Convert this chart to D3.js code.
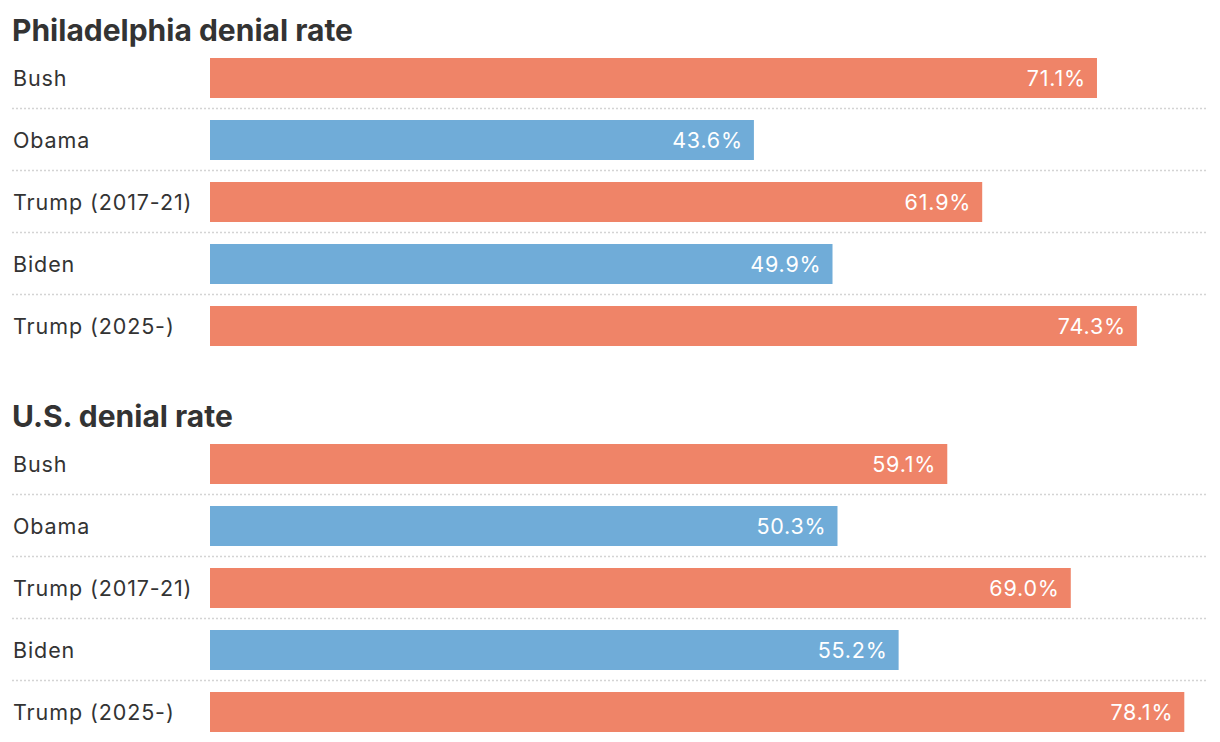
<!DOCTYPE html>
<html><head><meta charset="utf-8">
<script src="https://cdn.jsdelivr.net/npm/d3@7"></script>
<style>
body{margin:0;background:#fff;}
svg{display:block;font-family:"Inter","Roboto",sans-serif;}
</style></head>
<body><svg id="chart" width="1220" height="742"></svg>
<script>
const categories = ["Bush","Obama","Trump (2017-21)","Biden","Trump (2025-)"];
const parties = ["R","D","R","D","R"];
const phillyValues = [71.1, 43.6, 61.9, 49.9, 74.3];
const usValues = [59.1, 50.3, 69.0, 55.2, 78.1];
const titles = ["Philadelphia denial rate","U.S. denial rate"];

const colors = {R:"#ef8468", D:"#70acd8"};
const svg = d3.select("#chart");
const x = d3.scaleLinear().domain([0,80]).range([210,1208]);

function panel(title, values, top){
  const g = svg.append("g");
  g.append("text").attr("x",12).attr("y",top-17)
    .attr("font-size",30).attr("font-weight",700).attr("fill","#333")
    .text(title);
  const y = d3.scaleBand().domain(categories)
    .range([top, top + 5*62 - 22]).paddingInner(22/62).paddingOuter(0);
  const data = categories.map((c,i)=>({c, v:values[i], p:parties[i], i}));
  g.selectAll("line.sep").data(data.slice(0,4)).join("line")
    .attr("x1",12).attr("x2",1208)
    .attr("y1",d=>y(d.c)+y.bandwidth()+10.5).attr("y2",d=>y(d.c)+y.bandwidth()+10.5)
    .attr("stroke","#d4d4d4").attr("stroke-width",1.5).attr("stroke-dasharray","2,2");
  g.selectAll("text.cat").data(data).join("text")
    .attr("x",13).attr("y",d=>y(d.c)+y.bandwidth()/2).attr("dy","0.36em")
    .attr("font-size",21.5).attr("letter-spacing","0.9").attr("fill","#333").text(d=>d.c);
  g.selectAll("rect").data(data).join("rect")
    .attr("x",x(0)).attr("y",d=>y(d.c)).attr("width",d=>x(d.v)-x(0))
    .attr("height",y.bandwidth()).attr("fill",d=>colors[d.p]);
  g.selectAll("text.val").data(data).join("text")
    .attr("x",d=>x(d.v)-11).attr("y",d=>y(d.c)+y.bandwidth()/2).attr("dy","0.36em")
    .attr("text-anchor","end").attr("font-size",21.5).attr("letter-spacing","0.8").attr("fill","#fff")
    .text(d=>d.v.toFixed(1)+"%");
}
panel(titles[0], phillyValues, 58);
panel(titles[1], usValues, 444);
</script></body></html>
